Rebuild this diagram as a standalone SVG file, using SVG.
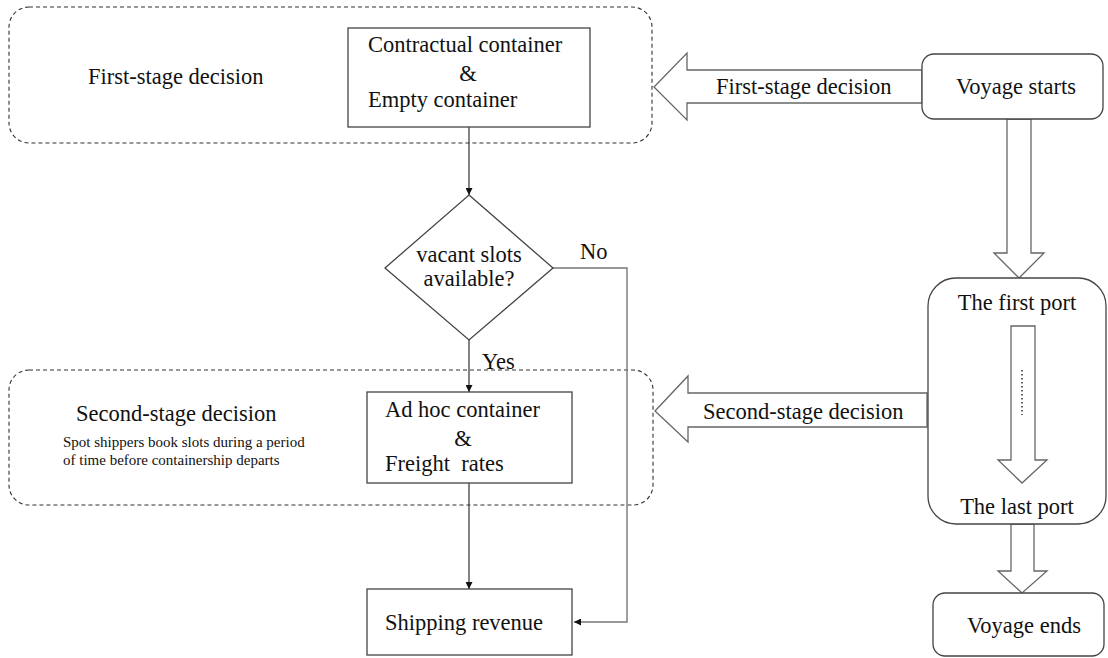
<svg xmlns="http://www.w3.org/2000/svg" width="1108" height="658" viewBox="0 0 1108 658">
<style>
text{font-family:"Liberation Serif","Times New Roman",serif;fill:#111;}
.t{font-size:22.5px;}
.s{font-size:15px;}
.box{fill:#fff;stroke:#444;stroke-width:1.3;}
.dash{fill:none;stroke:#333;stroke-width:1.1;stroke-dasharray:4,3;}
.hollow{fill:#fff;stroke:#666;stroke-width:1.3;stroke-linejoin:miter;}
.line{fill:none;stroke:#333;stroke-width:1.2;}
.grey{fill:none;stroke:#777;stroke-width:1.4;}
</style>
<defs>
<marker id="ah" viewBox="0 0 10 10" refX="10" refY="5" markerWidth="7" markerHeight="7" markerUnits="userSpaceOnUse" orient="auto">
<path d="M0,0 L10,5 L0,10 z" fill="#111"/>
</marker>
</defs>

<g id="stage1-group">
<rect class="dash" x="9" y="7" width="643" height="136" rx="20"/>
<text class="t" x="88" y="84">First-stage decision</text>
</g>
<g id="stage2-group">
<rect class="dash" x="9" y="370" width="644" height="135" rx="20"/>
<text class="t" x="76" y="421">Second-stage decision</text>
<text class="s" x="63" y="447">Spot shippers book slots during a period</text>
<text class="s" x="63" y="465">of time before containership departs</text>
</g>

<g id="connectors">
<line class="line" x1="469" y1="127" x2="469" y2="195" marker-end="url(#ah)"/>
<line class="line" x1="469" y1="340" x2="469" y2="392" marker-end="url(#ah)"/>
<line class="line" x1="469" y1="483" x2="469" y2="589" marker-end="url(#ah)"/>
<polyline class="grey" points="553,268 627,268 627,622 574,622" marker-end="url(#ah)"/>
<text class="t" x="580" y="259">No</text>
<text class="t" x="482" y="369">Yes</text>
<!-- hollow arrows -->
<polygon class="hollow" points="922,70 687,70 687,53 654,87 687,120 687,103 922,103"/>
<text class="t" x="716" y="94">First-stage decision</text>
<polygon class="hollow" points="927,393 688,393 688,376 655,411 688,442 688,427 927,427"/>
<text class="t" x="703" y="419">Second-stage decision</text>
<polygon class="hollow" points="1007,119 1007,253 994,253 1019,278 1044,253 1031,253 1031,119"/>
<polygon class="hollow" points="1011,524 1011,571 998,571 1022,593 1047,571 1034,571 1034,524"/>
</g>

<g id="contractual">
<rect class="box" x="348" y="28" width="242" height="99"/>
<text class="t" x="368" y="52">Contractual container</text>
<text class="t" x="468" y="81" text-anchor="middle">&amp;</text>
<text class="t" x="368" y="107">Empty container</text>
</g>

<g id="decision">
<polygon class="box" points="469,195 553,268 469,340 385,268"/>
<text class="t" x="469" y="262" text-anchor="middle">vacant slots</text>
<text class="t" x="469" y="286" text-anchor="middle">available?</text>
</g>

<g id="adhoc">
<rect class="box" x="367" y="392" width="205" height="91"/>
<text class="t" x="385" y="417">Ad hoc container</text>
<text class="t" x="463" y="446" text-anchor="middle">&amp;</text>
<text class="t" x="385" y="471" xml:space="preserve">Freight  rates</text>
</g>

<g id="revenue">
<rect class="box" x="367" y="589" width="205" height="66"/>
<text class="t" x="385" y="630">Shipping revenue</text>
</g>

<g id="voyage-starts">
<rect class="box" x="922" y="54" width="181" height="65" rx="12"/>
<text class="t" x="1016" y="94" text-anchor="middle">Voyage starts</text>
</g>

<g id="ports">
<rect class="box" x="928" y="278" width="178" height="246" rx="28"/>
<text class="t" x="1017" y="310" text-anchor="middle">The first port</text>
<polygon class="hollow" points="1011,326 1011,460 998,460 1022,483 1047,460 1035,460 1035,326"/>
<line x1="1022" y1="370" x2="1022" y2="415" stroke="#333" stroke-width="1.5" stroke-dasharray="1.5,2.5"/>
<text class="t" x="1017" y="514" text-anchor="middle">The last port</text>
</g>

<g id="voyage-ends">
<rect class="box" x="933" y="593" width="171" height="63" rx="12"/>
<text class="t" x="1024" y="633" text-anchor="middle">Voyage ends</text>
</g>
</svg>
